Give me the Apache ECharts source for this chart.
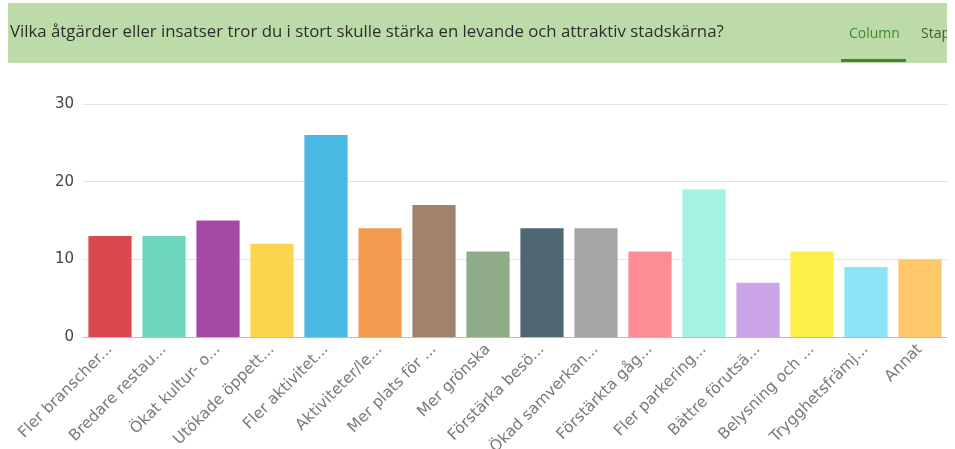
<!DOCTYPE html>
<html>
<head>
<meta charset="utf-8">
<script src="https://cdn.jsdelivr.net/npm/echarts@6/dist/echarts.min.js"></script>
<style>
html,body{margin:0;padding:0;background:#fff;}
#c{width:955px;height:449px;}
</style>
</head>
<body>
<div id="c"></div>
<script>
const titleText = "Vilka åtgärder eller insatser tror du i stort skulle stärka en levande och attraktiv stadskärna?";
const categories = ["Fler branscher...","Bredare restau...","Ökat kultur- o...","Utökade öppett...","Fler aktivitet...","Aktiviteter/le...","Mer plats för ...","Mer grönska","Förstärka besö...","Ökad samverkan...","Förstärkta gåg...","Fler parkering...","Bättre förutsä...","Belysning och ...","Trygghetsfrämj...","Annat"];
const values = [13,13,15,12,26,14,17,11,14,14,11,19,7,11,9,10];
const barColors = ["#d9494d","#6dd8be","#a54ba7","#fdd44d","#49b9e3","#f39b4f","#a0836a","#8fab87","#4f6770","#a6a6a6","#fd8c96","#a6f2e2","#caa4e7","#fdee4a","#8ae4f6","#fec86b"];
const yTicks = [0,10,20,30];

const chart = echarts.init(document.getElementById('c'));
chart.setOption({
  animation:false,
  graphic:[
    {type:'rect', shape:{x:8,y:3,width:939,height:60}, style:{fill:'#bcdba8'}, z:0},
    {type:'text', left:10, top:24, style:{text:titleText, font:'16.8px "Open Sans", sans-serif', fill:'#2e2e2e'}},
    {type:'text', left:849, top:27, style:{text:'Column', font:'14px "Open Sans", sans-serif', fill:'#3f8a2f'}},
    {type:'text', left:921, top:27, style:{text:'Stap', font:'14px "Open Sans", sans-serif', fill:'#4a5a40'}},
    {type:'rect', shape:{x:947,y:0,width:8,height:70}, style:{fill:'#ffffff'}, z:10},
    {type:'rect', shape:{x:841,y:59,width:65,height:3}, style:{fill:'#3f8a2f'}}
  ],
  grid:{left:83,right:8,top:104,bottom:112,containLabel:false,outerBoundsMode:'none'},
  xAxis:{
    type:'category',
    data:categories,
    axisLine:{lineStyle:{color:'#bbbbbb'}},
    axisTick:{alignWithLabel:true, length:5, lineStyle:{color:'#555'}},
    axisLabel:{rotate:45, interval:0, color:'#7a7a7a', fontSize:15.5, fontFamily:'"DejaVu Sans", sans-serif', margin:10}
  },
  yAxis:{
    type:'value',
    min:yTicks[0], max:yTicks[yTicks.length-1], interval:10,
    axisLine:{show:false}, axisTick:{show:false},
    splitLine:{lineStyle:{color:'#e2e2e2'}},
    axisLabel:{color:'#444', fontSize:15, fontFamily:'"DejaVu Sans", sans-serif', margin:9}
  },
  series:[{
    type:'bar',
    data:values.map((v,i)=>({value:v,itemStyle:{color:barColors[i]}})),
    barCategoryGap:'20%'
  }]
});
</script>
</body>
</html>
